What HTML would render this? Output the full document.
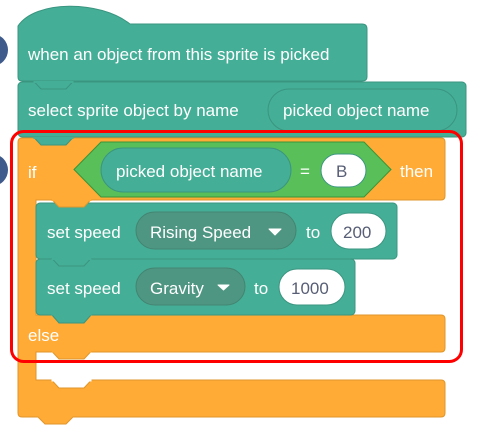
<!DOCTYPE html>
<html><head><style>
body{margin:0;background:#fff;}
svg{display:block;}
text{font-family:"Liberation Sans",sans-serif;font-size:17px;fill:#fff;}
.d{fill:#575e75;}
</style></head><body>
<svg width="480" height="427" viewBox="0 0 480 427">
<circle cx="-8" cy="50" r="16" fill="#3e5b8c"/>
<circle cx="-8" cy="170" r="16" fill="#3e5b8c"/>
<path d="M18,26 C35,0 100,0 130,24 L362,24 Q367,24 367,29 L367,77 Q367,81 362,81 L22,81 Q18,81 18,77 Z" fill="#45ae96" stroke="#3a9580"/>
<text x="28" y="60">when an object from this sprite is picked</text>
<rect x="18" y="82" width="448" height="55" rx="4" fill="#45ae96" stroke="#3a9580"/>
<path d="M34,81.5 L41,89 L66,89 L73,81.5 Z" fill="#45ae96" stroke="#3a9580"/>
<path d="M33.5,82 L73.5,82" stroke="#45ae96" stroke-width="2"/>
<text x="28" y="116">select sprite object by name</text>
<rect x="268" y="89" width="189" height="42" rx="21" fill="#45ae96" stroke="#3a9580"/>
<text x="283" y="116">picked object name</text>
<path d="M18,142 Q18,138 22,138 L441,138 Q445,138 445,142 L445,196 Q445,200 441,200 L36,200 L36,315 L441,315 Q445,315 445,319 L445,348 Q445,352 441,352 L36,352 L36,380 L441,380 Q445,380 445,384 L445,413 Q445,417 441,417 L22,417 Q18,417 18,413 Z" fill="#ffab35" stroke="#e0962a"/>
<path d="M34,137.5 L41,145 L66,145 L73,137.5 Z" fill="#45ae96" stroke="#3a9580"/>
<path d="M33.5,138 L73.5,138" stroke="#45ae96" stroke-width="2"/>
<path d="M38,417 L45,424 L66,424 L73,417 Z" fill="#ffab35" stroke="#e0962a"/>
<path d="M38.5,416.5 L72.5,416.5" stroke="#ffab35" stroke-width="2"/>
<text x="28" y="178">if</text>
<path d="M74,169.5 L101,142 L364,142 L391,169.5 L364,197 L101,197 Z" fill="#59c059" stroke="#389438"/>
<rect x="101" y="148" width="190" height="44" rx="22" fill="#45ae96" stroke="#3a9580"/>
<text x="116" y="177">picked object name</text>
<text x="300" y="177">=</text>
<rect x="321" y="154" width="45" height="33" rx="16.5" fill="#fff" stroke="#3a9580"/>
<text x="336" y="177" class="d">B</text>
<text x="400" y="177">then</text>
<rect x="36" y="203" width="361" height="56" rx="4" fill="#45ae96" stroke="#3a9580"/>
<path d="M52,199.5 L59,207 L84,207 L91,199.5 Z" fill="#ffab35" stroke="#e0962a"/>
<path d="M51.5,200 L91.5,200" stroke="#ffab35" stroke-width="2"/>
<text x="47" y="238">set speed</text>
<rect x="136" y="212" width="160" height="37" rx="18.5" fill="#4f9682" stroke="#428571"/>
<text x="150" y="238">Rising Speed</text>
<path d="M269,229 L281,229 L275,235 Z" fill="#fff" stroke="#fff" stroke-linejoin="round"/>
<text x="306" y="238">to</text>
<rect x="331" y="213" width="55" height="36" rx="18" fill="#fff" stroke="#3a9580"/>
<text x="343" y="238" class="d">200</text>
<rect x="36" y="259" width="319" height="56" rx="4" fill="#45ae96" stroke="#3a9580"/>
<path d="M52,258.5 L59,266 L84,266 L91,258.5 Z" fill="#45ae96" stroke="#3a9580"/>
<path d="M51.5,259 L91.5,259" stroke="#45ae96" stroke-width="2"/>
<text x="47" y="294">set speed</text>
<rect x="136" y="268" width="109" height="37" rx="18.5" fill="#4f9682" stroke="#428571"/>
<text x="150" y="294">Gravity</text>
<path d="M218,285 L229,285 L223.5,290 Z" fill="#fff" stroke="#fff" stroke-linejoin="round"/>
<text x="254" y="294">to</text>
<rect x="279" y="269" width="66" height="36" rx="18" fill="#fff" stroke="#3a9580"/>
<text x="291" y="294" class="d">1000</text>
<path d="M52,315 L59,323 L84,323 L91,315 Z" fill="#45ae96" stroke="#3a9580"/>
<path d="M51.5,314.5 L91.5,314.5" stroke="#45ae96" stroke-width="2"/>
<text x="28" y="341">else</text>
<path d="M52,351.5 L59,359 L84,359 L91,351.5 Z" fill="#ffab35" stroke="#e0962a"/>
<path d="M51.5,351.5 L91.5,351.5" stroke="#ffab35" stroke-width="2"/>
<path d="M52,380.5 L59,388 L84,388 L91,380.5 Z" fill="#fff" stroke="#e0962a"/>
<path d="M51.5,380.5 L91.5,380.5" stroke="#fff" stroke-width="2"/>
<rect x="11.5" y="131.5" width="450" height="230" rx="12" fill="none" stroke="#f00" stroke-width="3"/>
</svg>
</body></html>
